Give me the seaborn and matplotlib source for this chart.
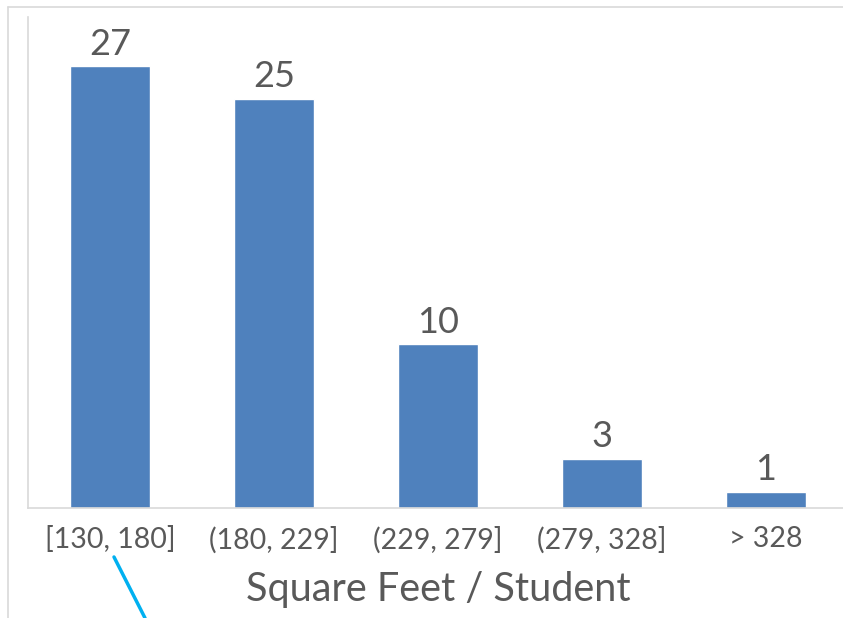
import matplotlib
matplotlib.use("Agg")
import matplotlib.pyplot as plt
import seaborn as sns
from matplotlib.lines import Line2D

# data
categories = ["[130, 180]", "(180, 229]", "(229, 279]", "(279, 328]", "> 328"]
counts = [27, 25, 10, 3, 1]

bar_color = "#4F81BD"
text_color = "#595959"
grid_color = "#D9D9D9"

sns.set_theme(style="white")
plt.rcParams["font.family"] = ["Lato", "DejaVu Sans"]

fig = plt.figure(figsize=(8.43, 6.18), dpi=100)
# axes runs off the right edge like the cropped original
ax = fig.add_axes([28 / 843, 110 / 618, 820 / 843, 491 / 618])

sns.barplot(x=categories, y=counts, color=bar_color, width=0.49,
            saturation=1, ax=ax)

ax.set_ylim(0, 30)
ax.set_yticks([])
ax.set_ylabel("")
for side in ["top", "right"]:
    ax.spines[side].set_visible(False)
ax.spines["left"].set_color(grid_color)
ax.spines["bottom"].set_color(grid_color)
ax.spines["left"].set_linewidth(1.2)
ax.spines["bottom"].set_linewidth(1.2)

for c in ax.containers:
    ax.bar_label(c, labels=[str(v) for v in counts], padding=4,
                 fontsize=26, color=text_color)

ax.tick_params(axis="x", length=0, pad=13, labelsize=20.5, labelcolor=text_color)
ax.set_xlabel("Square Feet / Student", fontsize=28.5, color=text_color, labelpad=13)

# outer chart frame (top and left visible)
fig.add_artist(Line2D([8 / 843, 1], [1 - 7 / 618, 1 - 7 / 618],
                      color=grid_color, lw=1.2, transform=fig.transFigure))
fig.add_artist(Line2D([8 / 843, 8 / 843], [0, 1 - 7 / 618],
                      color=grid_color, lw=1.2, transform=fig.transFigure))

# cyan callout line at the bottom
fig.add_artist(Line2D([114 / 843, 145 / 843], [1 - 557 / 618, 0],
                      color="#00B0F0", lw=2.5, transform=fig.transFigure))

fig.savefig("out.png", dpi=100)
